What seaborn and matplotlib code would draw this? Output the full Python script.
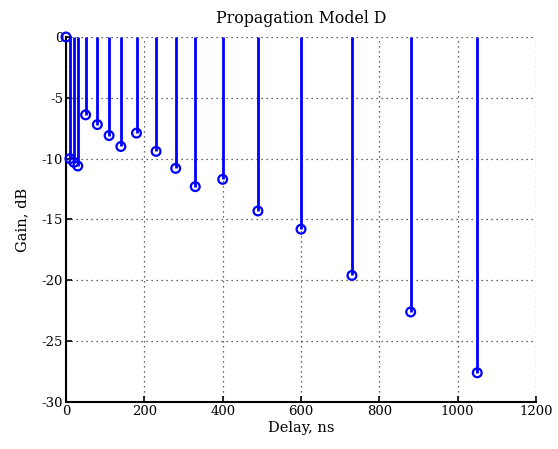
import matplotlib
matplotlib.use("Agg")
import matplotlib.pyplot as plt
import seaborn as sns
import pandas as pd

# Tap delays (ns) and gains (dB) for propagation model D
delay_ns = [0, 10, 20, 30, 50, 80, 110, 140, 180, 230, 280, 330, 400, 490, 600, 730, 880, 1050]
gain_db = [0.0, -10.0, -10.3, -10.6, -6.4, -7.2, -8.1, -9.0, -7.9, -9.4, -10.8, -12.3,
           -11.7, -14.3, -15.8, -19.6, -22.6, -27.6]
x_ticks = [0, 200, 400, 600, 800, 1000, 1200]
y_ticks = [0, -5, -10, -15, -20, -25, -30]

df = pd.DataFrame({"delay": delay_ns, "gain": gain_db})

sns.set_style("white")
plt.rcParams["font.family"] = ["DejaVu Serif", "Liberation Serif"]
plt.rcParams["text.color"] = "black"
plt.rcParams["axes.labelcolor"] = "black"

fig = plt.figure(figsize=(5.58, 4.49), dpi=100)
ax = fig.add_axes([0.1183, 0.1047, 0.8423, 0.8129])

# Stems from the zero baseline down to each tap
ax.vlines(df["delay"], 0, df["gain"], color="#0000ff", linewidth=2.0, zorder=3)
sns.scatterplot(data=df, x="delay", y="gain", ax=ax, marker="o", s=40,
                facecolor="none", edgecolor="#0000ff", linewidth=1.6, zorder=4,
                clip_on=False)

ax.set_xlim(0, 1200)
ax.set_ylim(-30, 0)
ax.set_xticks(x_ticks)
ax.set_yticks(y_ticks)
ax.set_xticklabels([str(v) for v in x_ticks])
ax.set_yticklabels([str(v) for v in y_ticks])

ax.grid(True, color="#333333", linestyle=(0, (1, 3)), linewidth=0.9)
ax.set_axisbelow(True)
for side in ("top", "right"):
    ax.spines[side].set_visible(False)
for side in ("left", "bottom"):
    ax.spines[side].set_color("black")
    ax.spines[side].set_linewidth(1.5)

ax.tick_params(direction="in", length=4, width=1.2, colors="black",
               labelsize=9.5, pad=2, left=True, bottom=True)

ax.set_title("Propagation Model D", fontsize=11.3, pad=10, color="black")
ax.set_xlabel("Delay, ns", fontsize=10.5, labelpad=2)
ax.set_ylabel("Gain, dB", fontsize=10.5, labelpad=9)

fig.savefig("out.png", dpi=100)
